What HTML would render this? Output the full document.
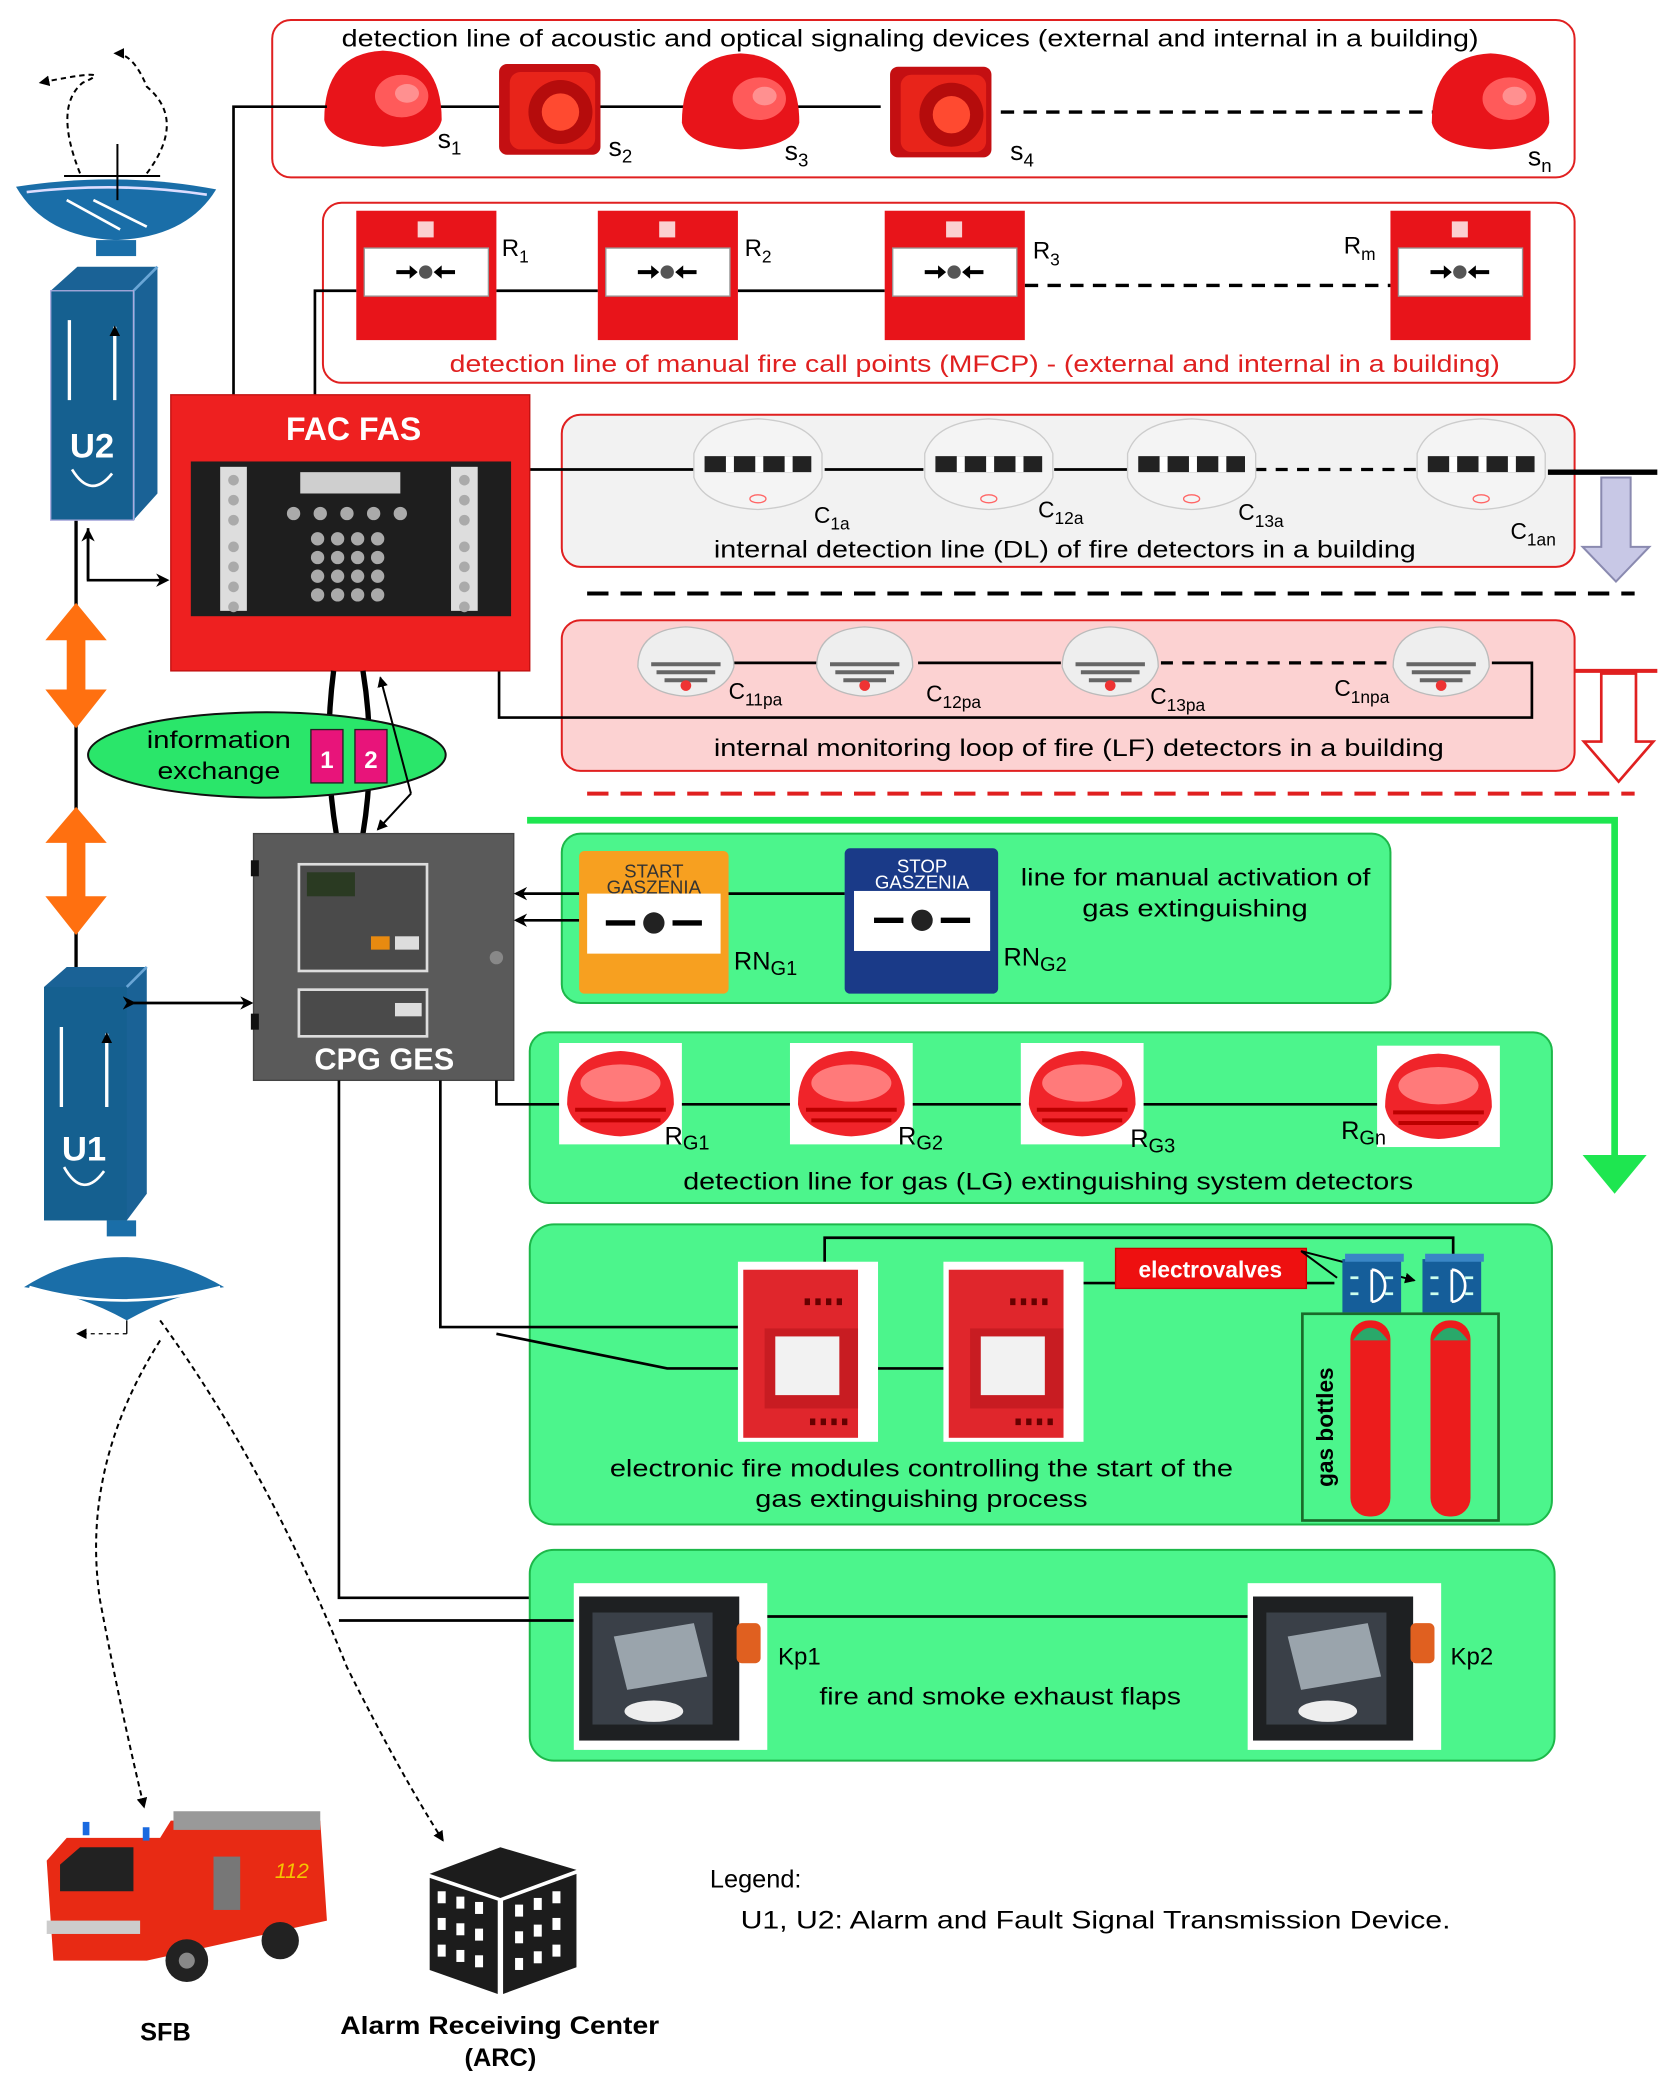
<!DOCTYPE html>
<html><head><meta charset="utf-8"><style>
html,body{margin:0;padding:0;background:#fff}
svg{display:block}
text{font-family:"Liberation Sans",Arial,sans-serif}
</style></head><body>
<svg width="1668" height="2082" viewBox="0 0 1250 1561" preserveAspectRatio="none" xmlns="http://www.w3.org/2000/svg">
<defs>
<marker id="ar" markerWidth="10" markerHeight="10" refX="8" refY="5" orient="auto" markerUnits="userSpaceOnUse"><path d="M0,0 L10,5 L0,10 L3,5z" fill="#000"/></marker>
<marker id="ars" markerWidth="8" markerHeight="8" refX="7" refY="4" orient="auto" markerUnits="userSpaceOnUse"><path d="M0,0 L8,4 L0,8z" fill="#000"/></marker>
<g id="dome"><path d="M-44,12 Q-44,-38 0,-40 Q44,-38 44,12 Q40,30 0,32 Q-40,30 -44,12z" fill="#e8141a"/><ellipse cx="14" cy="-6" rx="20" ry="16" fill="#ff5a5a"/><ellipse cx="18" cy="-8" rx="9" ry="7" fill="#ff9090"/></g>
<g id="horn"><rect x="-38" y="-34" width="76" height="68" rx="6" fill="#c40f12"/><rect x="-30" y="-28" width="64" height="58" rx="8" fill="#e8241a"/><circle cx="8" cy="2" r="24" fill="#b50c0c"/><circle cx="8" cy="2" r="14" fill="#ff4a30"/></g>
<g id="mcp"><rect x="0" y="0" width="105" height="97" fill="#e8141a"/><rect x="6" y="28" width="93" height="36" fill="#fff" stroke="#999"/><circle cx="52" cy="46" r="5" fill="#555"/><path d="M30,46h14M74,46h-14" stroke="#000" stroke-width="3"/><path d="M40,41l6,5l-6,5zM64,41l-6,5l6,5z" fill="#000"/><rect x="46" y="8" width="12" height="12" fill="#fff" opacity=".8"/></g>
<g id="det"><path d="M-48,-10 Q-40,-34 0,-36 Q40,-34 48,-10 L48,8 Q40,30 0,32 Q-40,30 -48,8z" fill="#f4f4f4" stroke="#ccc"/><rect x="-40" y="-8" width="80" height="12" fill="#222"/><rect x="-24" y="-8" width="6" height="12" fill="#fff"/><rect x="-2" y="-8" width="6" height="12" fill="#fff"/><rect x="20" y="-8" width="6" height="12" fill="#fff"/><ellipse cx="0" cy="24" rx="6" ry="3" fill="none" stroke="#f66"/></g>
<g id="det2"><path d="M-36,0 Q-36,-28 0,-30 Q36,-28 36,0 Q30,20 0,22 Q-30,20 -36,0z" fill="#eee" stroke="#bbb"/><path d="M-26,-2h52M-22,4h44M-16,10h32" stroke="#666" stroke-width="3"/><circle cx="0" cy="14" r="4" fill="#e33"/></g>
<g id="rdet"><rect x="-46" y="-38" width="92" height="76" fill="#fff"/><path d="M-40,8 Q-40,-30 0,-32 Q40,-30 40,8 Q36,30 0,32 Q-36,30 -40,8z" fill="#f0242a"/><ellipse cx="0" cy="-8" rx="30" ry="14" fill="#ff7a7a"/><path d="M-34,12h68M-30,20h60" stroke="#b00" stroke-width="3"/></g>
<g id="flap"><rect x="0" y="0" width="145" height="125" fill="#fff"/><rect x="4" y="10" width="120" height="108" fill="#1e2022"/><rect x="14" y="22" width="90" height="84" fill="#3a4048"/><path d="M30,40 L90,30 L100,70 L40,80z" fill="#9aa4ac"/><ellipse cx="60" cy="96" rx="22" ry="8" fill="#eee"/><rect x="122" y="30" width="18" height="30" rx="4" fill="#e06020"/></g>
<g id="mod"><rect x="0" y="0" width="105" height="135" fill="#fff"/><rect x="4" y="6" width="86" height="126" fill="#e0262c"/><rect x="20" y="50" width="70" height="60" fill="#c81c22"/><rect x="28" y="56" width="48" height="44" fill="#f2f2f2"/><path d="M50,30h4M58,30h4M66,30h4M74,30h4M54,120h4M62,120h4M70,120h4M78,120h4" stroke="#600" stroke-width="5"/></g>
<g id="valve"><rect x="0" y="0" width="44" height="40" fill="#155e9a"/><rect x="2" y="-4" width="44" height="6" fill="#3a86c6"/><path d="M22,8 v24 M22,8 a10,12 0 0 1 0,24" stroke="#fff" stroke-width="2" fill="none"/><path d="M6,14h6M32,14h6M6,26h6M32,26h6" stroke="#cfe" stroke-width="2"/></g>
</defs>

<!-- top box -->
<rect x="204" y="15" width="976" height="118" rx="14" fill="#fff" stroke="#e02020" stroke-width="1.5"/>
<text x="256" y="35" font-size="18" textLength="852" lengthAdjust="spacingAndGlyphs">detection line of acoustic and optical signaling devices (external and internal in a building)</text>
<path d="M287,80 H660" stroke="#000" stroke-width="2"/>
<path d="M750,84 H1075" stroke="#000" stroke-width="2.5" stroke-dasharray="10,7"/>
<use href="#dome" x="287" y="78"/><use href="#horn" x="412" y="82"/><use href="#dome" x="555" y="80"/><use href="#horn" x="705" y="84"/><use href="#dome" x="1117" y="80"/>
<text x="328" y="111" font-size="20">s<tspan font-size="14" dy="5">1</tspan></text>
<text x="456" y="117" font-size="20">s<tspan font-size="14" dy="5">2</tspan></text>
<text x="588" y="120" font-size="20">s<tspan font-size="14" dy="5">3</tspan></text>
<text x="757" y="120" font-size="20">s<tspan font-size="14" dy="5">4</tspan></text>
<text x="1145" y="124" font-size="20">s<tspan font-size="14" dy="5">n</tspan></text>

<!-- MCP box -->
<rect x="242" y="152" width="938" height="135" rx="14" fill="#fff" stroke="#e02020" stroke-width="1.5"/>
<path d="M372,218 H448 M553,218 H663" stroke="#000" stroke-width="2"/>
<path d="M768,214 H1042" stroke="#000" stroke-width="2.5" stroke-dasharray="10,7"/>
<use href="#mcp" x="267" y="158"/><use href="#mcp" x="448" y="158"/><use href="#mcp" x="663" y="158"/><use href="#mcp" x="1042" y="158"/>
<text x="376" y="192" font-size="18">R<tspan font-size="13" dy="5">1</tspan></text>
<text x="558" y="192" font-size="18">R<tspan font-size="13" dy="5">2</tspan></text>
<text x="774" y="194" font-size="18">R<tspan font-size="13" dy="5">3</tspan></text>
<text x="1007" y="190" font-size="18">R<tspan font-size="13" dy="5">m</tspan></text>
<text x="337" y="279" font-size="18" fill="#e02020" textLength="787" lengthAdjust="spacingAndGlyphs">detection line of manual fire call points (MFCP) - (external and internal in a building)</text>

<path d="M175,296 V80 H245 M236,296 V218 H267" stroke="#000" stroke-width="2" fill="none"/>

<!-- DL box -->
<rect x="421" y="311" width="759" height="114" rx="14" fill="#f2f2f2" stroke="#e02020" stroke-width="1.5"/>
<path d="M397,352 H520 M618,352 H692 M790,352 H845" stroke="#000" stroke-width="2"/>
<path d="M940,352 H1062" stroke="#000" stroke-width="2.5" stroke-dasharray="9,7"/>
<path d="M1160,354 H1242" stroke="#000" stroke-width="4"/>
<use href="#det" x="568" y="350"/><use href="#det" x="741" y="350"/><use href="#det" x="893" y="350"/><use href="#det" x="1110" y="350"/>
<text x="610" y="392" font-size="17">C<tspan font-size="13" dy="5">1a</tspan></text>
<text x="778" y="388" font-size="17">C<tspan font-size="13" dy="5">12a</tspan></text>
<text x="928" y="390" font-size="17">C<tspan font-size="13" dy="5">13a</tspan></text>
<text x="1132" y="404" font-size="17">C<tspan font-size="13" dy="5">1an</tspan></text>
<text x="535" y="418" font-size="18" textLength="526" lengthAdjust="spacingAndGlyphs">internal detection line (DL) of fire detectors in a building</text>
<path d="M1200,358 V410 H1186 L1211,436 L1236,410 H1222 V358z" fill="#c8c8e6" stroke="#8a8ab0" stroke-width="1.5"/>
<path d="M440,445 H1225" stroke="#000" stroke-width="3" stroke-dasharray="16,9"/>

<!-- LF box -->
<rect x="421" y="465" width="759" height="113" rx="14" fill="#fcd2d2" stroke="#e02020" stroke-width="1.5"/>
<path d="M374,503 V538 H1148 V497 H1118 M550,497 H612 M688,497 H795" stroke="#000" stroke-width="2" fill="none"/>
<path d="M870,497 H1042" stroke="#000" stroke-width="2.5" stroke-dasharray="9,7"/>
<use href="#det2" x="514" y="500"/><use href="#det2" x="648" y="500"/><use href="#det2" x="832" y="500"/><use href="#det2" x="1080" y="500"/>
<text x="546" y="524" font-size="17">C<tspan font-size="13" dy="5">11pa</tspan></text>
<text x="694" y="526" font-size="17">C<tspan font-size="13" dy="5">12pa</tspan></text>
<text x="862" y="528" font-size="17">C<tspan font-size="13" dy="5">13pa</tspan></text>
<text x="1000" y="522" font-size="17">C<tspan font-size="13" dy="5">1npa</tspan></text>
<text x="535" y="567" font-size="18" textLength="547" lengthAdjust="spacingAndGlyphs">internal monitoring loop of fire (LF) detectors in a building</text>
<path d="M1180,503 H1242" stroke="#e02020" stroke-width="3"/>
<path d="M1200,505 V556 H1187 L1213,586 L1239,556 H1226 V505z" fill="#fff" stroke="#e02020" stroke-width="2"/>
<path d="M440,595 H1225" stroke="#e02020" stroke-width="3" stroke-dasharray="16,9"/>

<path d="M395,615 H1210 V870" stroke="#1ee650" stroke-width="5" fill="none"/>
<path d="M1186,866 L1210,895 L1234,866z" fill="#1ee650"/>

<!-- FAC FAS -->
<rect x="128" y="296" width="269" height="207" fill="#ee2020" stroke="#c01010"/>
<text x="265" y="330" font-size="24" font-weight="bold" fill="#fff" text-anchor="middle">FAC FAS</text>
<rect x="143" y="346" width="240" height="116" fill="#1e1e1e"/>
<rect x="165" y="350" width="20" height="108" fill="#ddd"/><rect x="338" y="350" width="20" height="108" fill="#ddd"/>
<rect x="225" y="354" width="75" height="16" fill="#cfcfcf"/>
<g fill="#aaa"><circle cx="238" cy="404" r="5"/><circle cx="253" cy="404" r="5"/><circle cx="268" cy="404" r="5"/><circle cx="283" cy="404" r="5"/><circle cx="238" cy="418" r="5"/><circle cx="253" cy="418" r="5"/><circle cx="268" cy="418" r="5"/><circle cx="283" cy="418" r="5"/><circle cx="238" cy="432" r="5"/><circle cx="253" cy="432" r="5"/><circle cx="268" cy="432" r="5"/><circle cx="283" cy="432" r="5"/><circle cx="238" cy="446" r="5"/><circle cx="253" cy="446" r="5"/><circle cx="268" cy="446" r="5"/><circle cx="283" cy="446" r="5"/>
<circle cx="220" cy="385" r="5"/><circle cx="240" cy="385" r="5"/><circle cx="260" cy="385" r="5"/><circle cx="280" cy="385" r="5"/><circle cx="300" cy="385" r="5"/>
<circle cx="175" cy="360" r="4"/><circle cx="175" cy="375" r="4"/><circle cx="175" cy="390" r="4"/><circle cx="175" cy="410" r="4"/><circle cx="175" cy="425" r="4"/><circle cx="175" cy="440" r="4"/><circle cx="175" cy="455" r="4"/>
<circle cx="348" cy="360" r="4"/><circle cx="348" cy="375" r="4"/><circle cx="348" cy="390" r="4"/><circle cx="348" cy="410" r="4"/><circle cx="348" cy="425" r="4"/><circle cx="348" cy="440" r="4"/><circle cx="348" cy="455" r="4"/></g>

<!-- left column -->
<path d="M57,390 V725" stroke="#000" stroke-width="2.5"/>
<path d="M66,396 V435 H125" stroke="#000" stroke-width="2" fill="none" marker-end="url(#ar)"/>
<path d="M66,435 V398" stroke="#000" stroke-width="2" marker-end="url(#ar)"/>
<g fill="#ff7010"><path d="M57,452 L80,480 H64 V517 H80 L57,546 L34,517 H50 V480 H34z"/><path d="M57,605 L80,632 H64 V672 H80 L57,701 L34,672 H50 V632 H34z"/></g>
<path d="M38,218 L58,200 H118 V370 L100,390 H38z" fill="#1a6296"/>
<path d="M100,218 L118,200 M100,218 V390" stroke="#6aa6d6" stroke-width="2"/>
<rect x="38" y="218" width="62" height="172" fill="#156090" stroke="#aad" stroke-width="1"/>
<path d="M52,240 V300 M86,300 V245" stroke="#fff" stroke-width="2.5" marker-end="url(#ars)"/>
<text x="69" y="343" font-size="26" font-weight="bold" fill="#fff" text-anchor="middle">U2</text>
<path d="M54,352 Q68,375 84,355" stroke="#fff" stroke-width="2" fill="none"/>
<path d="M12,140 Q90,128 162,142 Q140,178 87,180 Q34,178 12,140z" fill="#1a6ea8"/>
<path d="M20,144 Q90,136 155,146" stroke="#ddf" stroke-width="2" fill="none"/>
<path d="M50,150 L90,172 M70,150 L110,170" stroke="#fff" stroke-width="2"/>
<rect x="72" y="180" width="30" height="12" fill="#1a6ea8"/>
<path d="M88,108 V150 M48,132 H120" stroke="#000" stroke-width="1.5"/>
<path d="M60,130 Q40,80 62,62 Q90,50 30,62" stroke="#000" stroke-width="1.5" fill="none" stroke-dasharray="4,3" marker-end="url(#ars)"/>
<path d="M110,130 Q140,90 110,65 Q100,40 86,40" stroke="#000" stroke-width="1.5" fill="none" stroke-dasharray="4,3" marker-end="url(#ars)"/>
<path d="M33,740 L50,725 H110 V895 L95,915 H33z" fill="#1a6296"/>
<rect x="33" y="740" width="62" height="175" fill="#156090"/>
<path d="M95,740 L110,725" stroke="#6aa6d6" stroke-width="2"/>
<path d="M46,770 V830 M80,830 V775" stroke="#fff" stroke-width="2.5" marker-end="url(#ars)"/>
<text x="63" y="870" font-size="26" font-weight="bold" fill="#fff" text-anchor="middle">U1</text>
<path d="M48,875 Q62,900 78,878" stroke="#fff" stroke-width="2" fill="none"/>
<path d="M100,752 H188" stroke="#000" stroke-width="2" marker-end="url(#ar)" marker-start="url(#ar)"/>
<rect x="80" y="915" width="22" height="12" fill="#1a6ea8"/>
<path d="M18,965 Q90,920 168,965 Q130,970 95,990 Q60,970 18,965z" fill="#1a6ea8"/>
<path d="M22,965 Q90,985 165,965" stroke="#fff" stroke-width="2" fill="none"/>
<path d="M95,990 V1000" stroke="#000"/>
<path d="M95,1000 H58" stroke="#000" stroke-dasharray="3,3" marker-end="url(#ars)"/>
<path d="M120,1005 Q60,1100 75,1200 Q90,1280 108,1355" stroke="#000" stroke-width="1.5" fill="none" stroke-dasharray="4,3" marker-end="url(#ars)"/>
<path d="M120,990 Q200,1100 260,1250 Q300,1330 332,1380" stroke="#000" stroke-width="1.5" fill="none" stroke-dasharray="4,3" marker-end="url(#ars)"/>

<!-- info exchange -->
<path d="M250,503 Q242,565 252,625 M272,503 Q282,565 272,625" stroke="#000" stroke-width="4" fill="none"/>
<ellipse cx="200" cy="566" rx="134" ry="32" fill="#2ae66a" stroke="#111" stroke-width="1.5"/>
<text x="110" y="561" font-size="18" textLength="108" lengthAdjust="spacingAndGlyphs">information</text>
<text x="118" y="584" font-size="18" textLength="92" lengthAdjust="spacingAndGlyphs">exchange</text>
<rect x="233" y="547" width="24" height="40" fill="#e8147a" stroke="#222"/>
<rect x="266" y="547" width="24" height="40" fill="#e8147a" stroke="#222"/>
<text x="245" y="576" font-size="18" font-weight="bold" fill="#fff" text-anchor="middle">1</text>
<text x="278" y="576" font-size="18" font-weight="bold" fill="#fff" text-anchor="middle">2</text>
<path d="M308,595 L285,508" stroke="#000" stroke-width="1.5" marker-end="url(#ars)"/>
<path d="M308,595 L283,622" stroke="#000" stroke-width="1.5" marker-end="url(#ars)"/>

<!-- CPG GES -->
<rect x="190" y="625" width="195" height="185" fill="#5a5a5a" stroke="#444"/>
<rect x="188" y="645" width="6" height="12" fill="#111"/><rect x="188" y="760" width="6" height="12" fill="#111"/>
<rect x="224" y="648" width="96" height="80" fill="#4a4a4a" stroke="#ddd" stroke-width="2"/>
<rect x="230" y="654" width="36" height="18" fill="#2a3a22"/>
<rect x="278" y="702" width="14" height="10" fill="#e88a10"/><rect x="296" y="702" width="18" height="10" fill="#ddd"/>
<rect x="224" y="742" width="96" height="35" fill="#4a4a4a" stroke="#ddd" stroke-width="2"/>
<rect x="296" y="752" width="20" height="10" fill="#ddd"/>
<circle cx="372" cy="718" r="5" fill="#888"/>
<text x="288" y="802" font-size="23" font-weight="bold" fill="#fff" text-anchor="middle">CPG GES</text>

<!-- green box 1 -->
<rect x="421" y="625" width="621" height="127" rx="14" fill="#4cf58c" stroke="#1db84a" stroke-width="1.5"/>
<path d="M434,670 H387" stroke="#000" stroke-width="2" marker-end="url(#ar)"/>
<path d="M434,690 H387" stroke="#000" stroke-width="2" marker-end="url(#ar)"/>
<path d="M545,670 H633" stroke="#000" stroke-width="2"/>
<rect x="434" y="638" width="112" height="107" rx="4" fill="#f7a020"/>
<rect x="440" y="670" width="100" height="45" fill="#fff"/>
<text x="490" y="658" font-size="14" text-anchor="middle" fill="#333">START</text>
<text x="490" y="670" font-size="14" text-anchor="middle" fill="#333">GASZENIA</text>
<circle cx="490" cy="692" r="8" fill="#222"/><path d="M454,692h22M526,692h-22" stroke="#000" stroke-width="4"/>
<rect x="633" y="636" width="115" height="109" rx="4" fill="#1a3a88"/>
<rect x="640" y="668" width="102" height="45" fill="#fff"/>
<text x="691" y="654" font-size="14" text-anchor="middle" fill="#fff">STOP</text>
<text x="691" y="666" font-size="14" text-anchor="middle" fill="#fff">GASZENIA</text>
<circle cx="691" cy="690" r="8" fill="#222"/><path d="M655,690h22M727,690h-22" stroke="#000" stroke-width="4"/>
<text x="550" y="727" font-size="19">RN<tspan font-size="15" dy="4">G1</tspan></text>
<text x="752" y="724" font-size="19">RN<tspan font-size="15" dy="4">G2</tspan></text>
<text x="765" y="664" font-size="18" textLength="262" lengthAdjust="spacingAndGlyphs">line for manual activation of</text>
<text x="811" y="687" font-size="18" textLength="169" lengthAdjust="spacingAndGlyphs">gas extinguishing</text>

<!-- green box 2 -->
<rect x="397" y="774" width="766" height="128" rx="14" fill="#4cf58c" stroke="#1db84a" stroke-width="1.5"/>
<path d="M372,810 V828 H1070" stroke="#000" stroke-width="2" fill="none"/>
<use href="#rdet" x="465" y="820"/><use href="#rdet" x="638" y="820"/><use href="#rdet" x="811" y="820"/><use href="#rdet" x="1078" y="822"/>
<text x="498" y="858" font-size="19">R<tspan font-size="15" dy="4">G1</tspan></text>
<text x="673" y="858" font-size="19">R<tspan font-size="15" dy="4">G2</tspan></text>
<text x="847" y="860" font-size="19">R<tspan font-size="15" dy="4">G3</tspan></text>
<text x="1005" y="854" font-size="19">R<tspan font-size="15" dy="4">Gn</tspan></text>
<text x="512" y="892" font-size="18" textLength="547" lengthAdjust="spacingAndGlyphs">detection line for gas (LG) extinguishing system detectors</text>

<!-- green box 3 -->
<rect x="397" y="918" width="766" height="225" rx="18" fill="#4cf58c" stroke="#1db84a" stroke-width="1.5"/>
<path d="M330,810 V995 H555 M254,810 V1198 H430" stroke="#000" stroke-width="2" fill="none"/>
<path d="M372,1000 L500,1026 H555" stroke="#000" stroke-width="2" fill="none"/>
<path d="M618,948 V928 H1089 V946 M812,962 H1000" stroke="#000" stroke-width="2" fill="none"/>
<path d="M655,1026 H710" stroke="#000" stroke-width="2"/>
<use href="#mod" x="553" y="946"/><use href="#mod" x="707" y="946"/>
<rect x="836" y="936" width="143" height="30" fill="#ee1010" stroke="#c00"/>
<text x="907" y="958" font-size="17" font-weight="bold" fill="#fff" text-anchor="middle">electrovalves</text>
<path d="M975,938 L1002,958 M975,938 L1060,960" stroke="#000" stroke-width="1.5" marker-end="url(#ars)"/>
<use href="#valve" x="1006" y="944"/><use href="#valve" x="1066" y="944"/>
<rect x="976" y="985" width="147" height="155" fill="none" stroke="#1a6a2a" stroke-width="2"/>
<rect x="1012" y="990" width="30" height="147" rx="14" fill="#ec1c1c"/><rect x="1072" y="990" width="30" height="147" rx="14" fill="#ec1c1c"/>
<path d="M1014,1005 Q1027,986 1040,1005z M1074,1005 Q1087,986 1100,1005z" fill="#2aa86a"/>
<text x="999" y="1070" font-size="17" font-weight="bold" text-anchor="middle" transform="rotate(-90 999 1070)">gas bottles</text>
<text x="457" y="1107" font-size="18" textLength="467" lengthAdjust="spacingAndGlyphs">electronic fire modules controlling the start of the</text>
<text x="566" y="1130" font-size="18" textLength="249" lengthAdjust="spacingAndGlyphs">gas extinguishing process</text>

<!-- green box 4 -->
<rect x="397" y="1162" width="768" height="158" rx="18" fill="#4cf58c" stroke="#1db84a" stroke-width="1.5"/>
<path d="M254,1215 H430 M574,1212 H935" stroke="#000" stroke-width="2" fill="none"/>
<use href="#flap" x="430" y="1187"/><use href="#flap" x="935" y="1187"/>
<text x="583" y="1248" font-size="18">Kp1</text>
<text x="1087" y="1248" font-size="18">Kp2</text>
<text x="614" y="1278" font-size="18" textLength="271" lengthAdjust="spacingAndGlyphs">fire and smoke exhaust flaps</text>

<!-- fire truck -->
<g>
<path d="M35,1395 L50,1378 H120 L128,1365 H240 L245,1440 L110,1470 L40,1470z" fill="#e82a14"/>
<path d="M45,1398 L60,1385 H100 L100,1418 H45z" fill="#222"/>
<rect x="130" y="1358" width="110" height="14" fill="#999"/>
<rect x="160" y="1392" width="20" height="40" fill="#777"/>
<text x="206" y="1408" font-size="16" fill="#f5c400" font-style="italic">112</text>
<circle cx="140" cy="1470" r="16" fill="#222"/><circle cx="140" cy="1470" r="6" fill="#888"/>
<circle cx="210" cy="1455" r="14" fill="#222"/>
<rect x="35" y="1440" width="70" height="10" fill="#ccc"/>
<rect x="62" y="1366" width="5" height="10" fill="#1a6ae0"/><rect x="107" y="1370" width="5" height="10" fill="#1a6ae0"/>
</g>
<text x="124" y="1530" font-size="19" font-weight="bold" text-anchor="middle">SFB</text>
<path d="M322,1405 L375,1385 L432,1402 L375,1423z" fill="#1c1c1c"/>
<path d="M322,1408 L373,1425 V1495 L322,1477z" fill="#1c1c1c"/>
<path d="M377,1425 L432,1405 V1475 L377,1495z" fill="#1c1c1c"/>
<g fill="#fff"><rect x="328" y="1418" width="6" height="9"/><rect x="342" y="1422" width="6" height="9"/><rect x="356" y="1426" width="6" height="9"/><rect x="328" y="1438" width="6" height="9"/><rect x="342" y="1442" width="6" height="9"/><rect x="356" y="1446" width="6" height="9"/><rect x="328" y="1458" width="6" height="9"/><rect x="342" y="1462" width="6" height="9"/><rect x="356" y="1466" width="6" height="9"/>
<rect x="386" y="1428" width="6" height="9"/><rect x="400" y="1423" width="6" height="9"/><rect x="414" y="1418" width="6" height="9"/><rect x="386" y="1448" width="6" height="9"/><rect x="400" y="1443" width="6" height="9"/><rect x="414" y="1438" width="6" height="9"/><rect x="386" y="1468" width="6" height="9"/><rect x="400" y="1463" width="6" height="9"/><rect x="414" y="1458" width="6" height="9"/></g>
<text x="255" y="1525" font-size="19" font-weight="bold" textLength="239" lengthAdjust="spacingAndGlyphs">Alarm Receiving Center</text>
<text x="375" y="1549" font-size="19" font-weight="bold" text-anchor="middle">(ARC)</text>
<text x="532" y="1415" font-size="19">Legend:</text>
<text x="555" y="1446" font-size="19" textLength="532" lengthAdjust="spacingAndGlyphs">U1, U2: Alarm and Fault Signal Transmission Device.</text>
</svg>
</body></html>
